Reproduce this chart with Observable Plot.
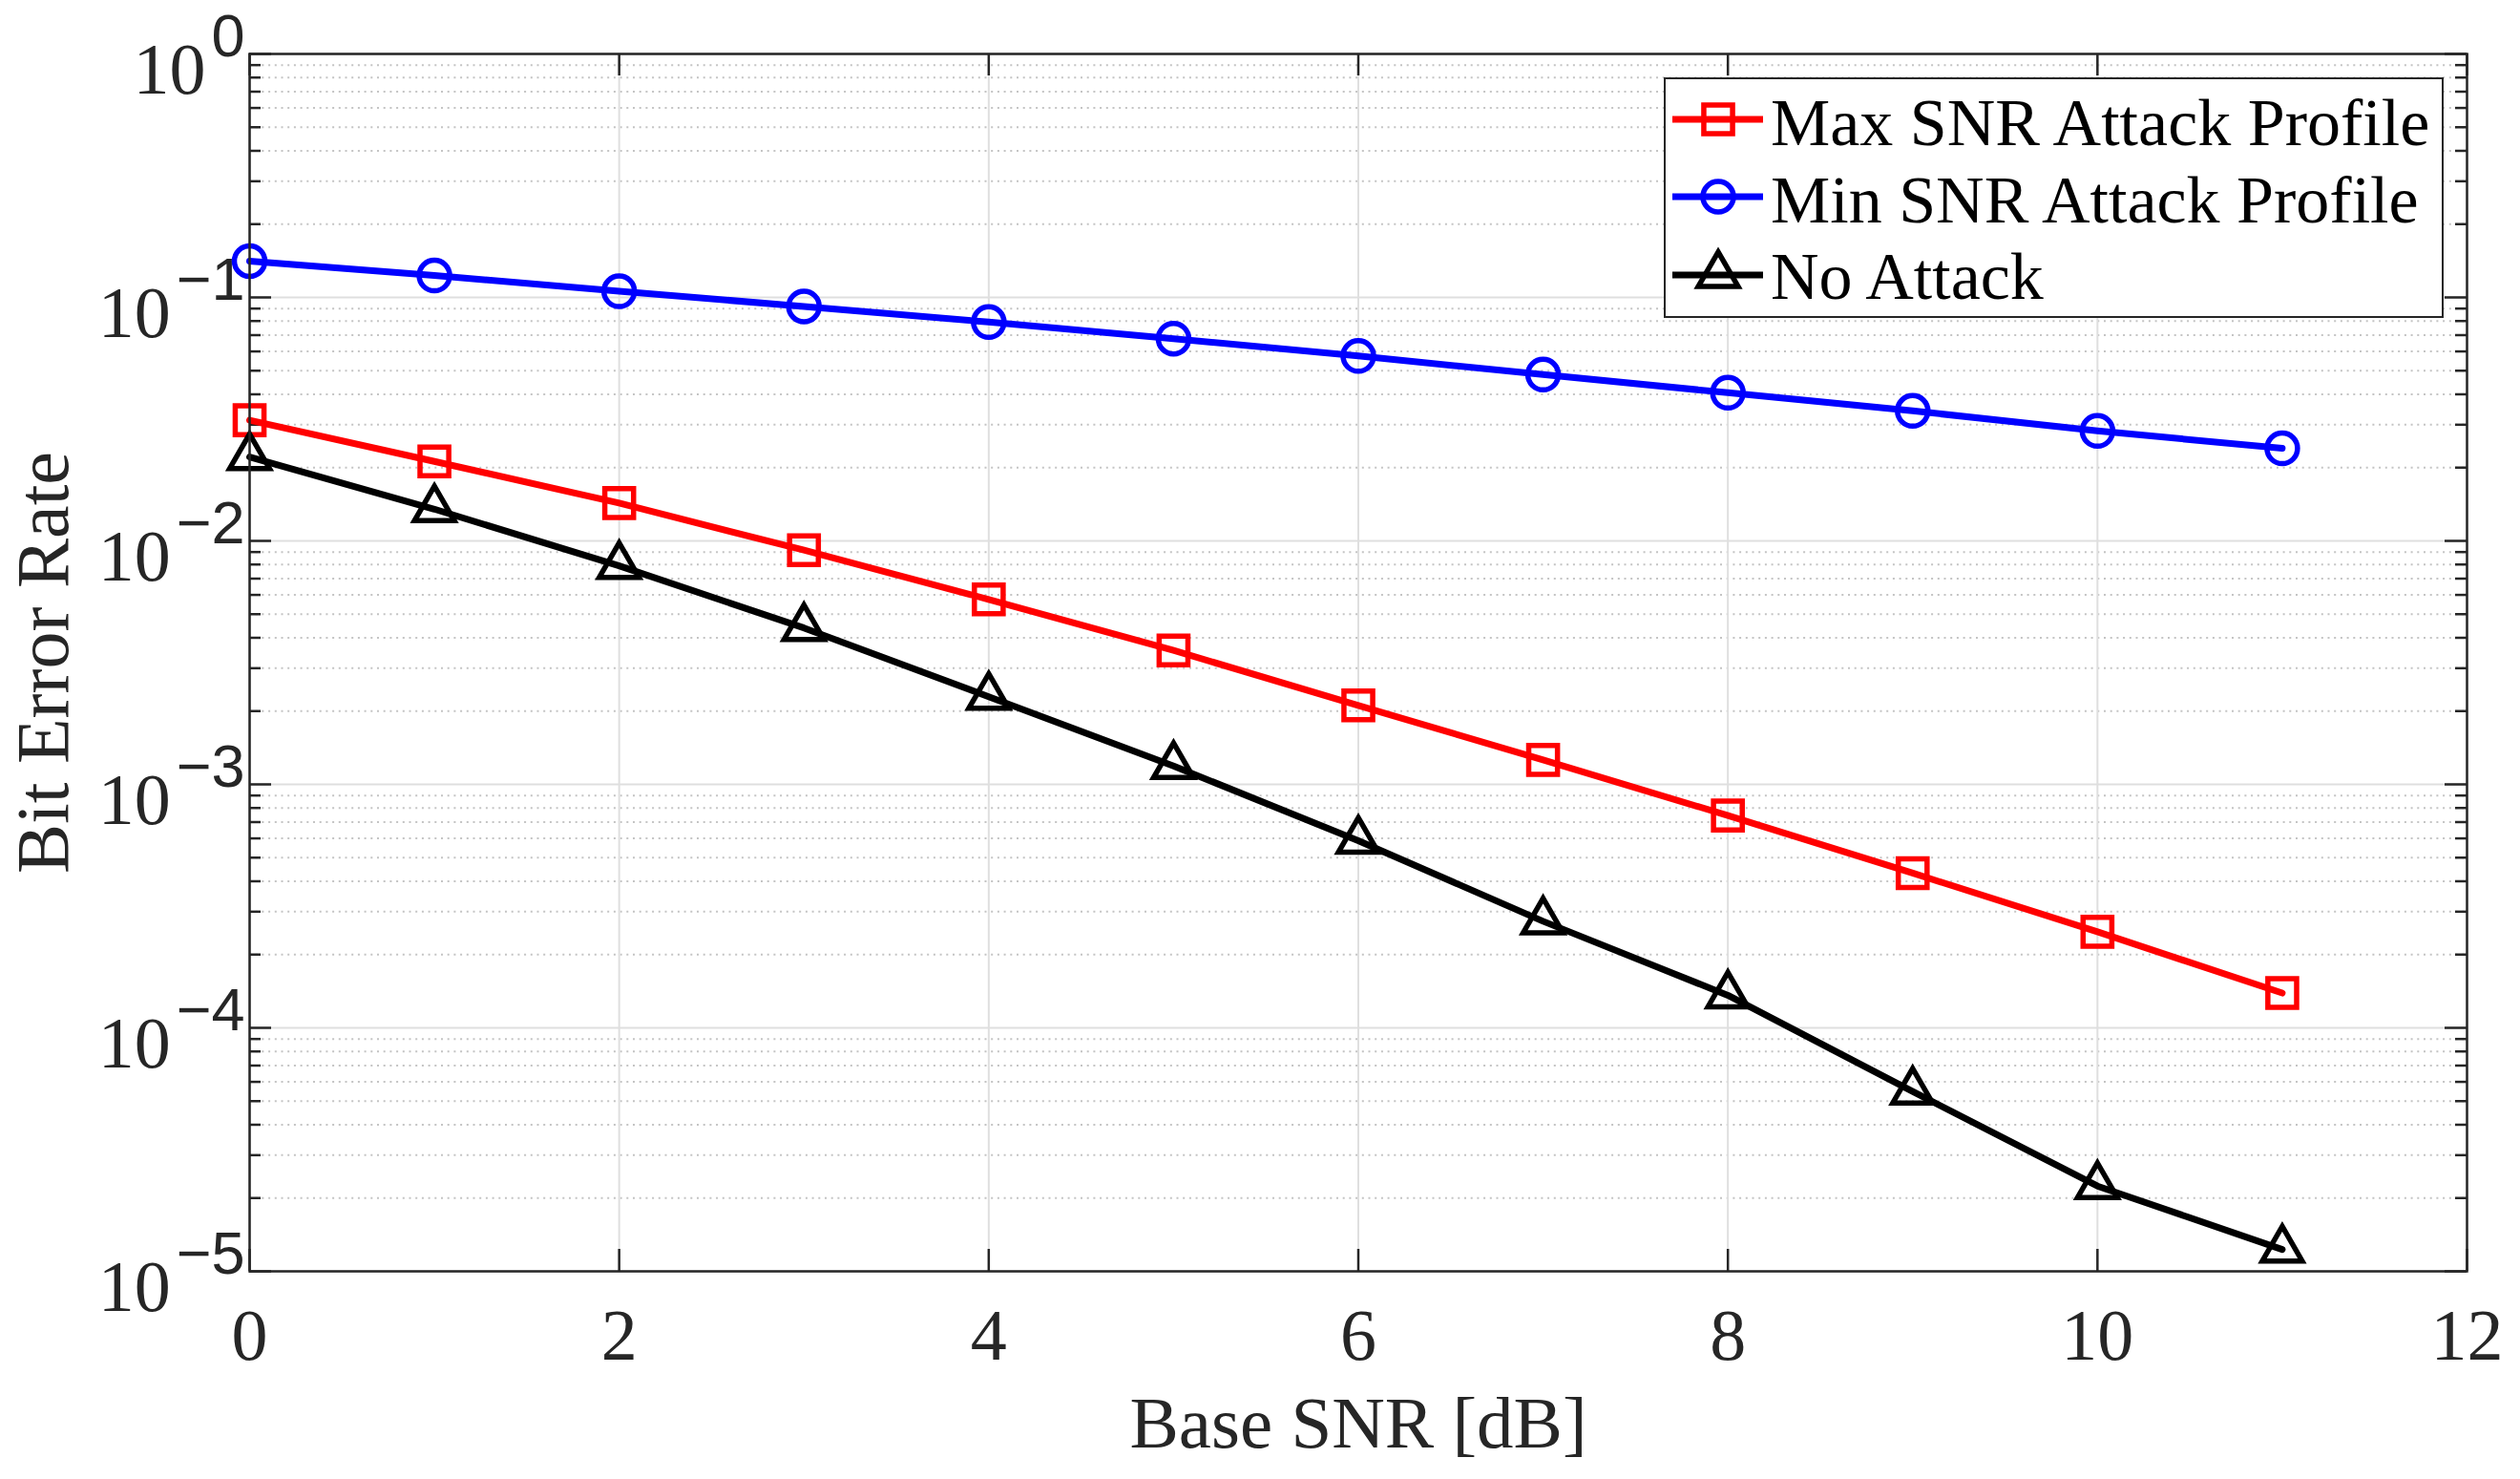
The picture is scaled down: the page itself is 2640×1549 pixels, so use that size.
<!DOCTYPE html>
<html>
<head>
<meta charset="utf-8">
<script src="https://cdn.jsdelivr.net/npm/d3@7"></script>
<script src="https://cdn.jsdelivr.net/npm/@observablehq/plot@0.6"></script>
<style>
  html, body { margin: 0; padding: 0; background: #fff; }
  #wrap { position: relative; width: 2640px; height: 1549px; }
  #legend { position: absolute; left: 1743px; top: 81px; width: 813px; height: 248px;
            border: 2.5px solid #262626; background: #fff; }
  #legend svg { display: block; }
</style>
</head>
<body>
<div id="wrap"></div>
<script>
// ---- data ----
const snr = [0, 1, 2, 3, 4, 5, 6, 7, 8, 9, 10, 11];
const maxSnrAttack = [0.0313, 0.0212, 0.0143, 0.00916, 0.00575, 0.00355, 0.00211, 0.00126, 0.000745, 0.000432, 0.000248, 0.000139];
const minSnrAttack = [0.141, 0.123, 0.106, 0.0918, 0.0792, 0.0677, 0.0575, 0.0482, 0.0406, 0.0342, 0.0283, 0.0240];
const noAttack = [0.0221, 0.0135, 0.0079, 0.00439, 0.00229, 0.00119, 0.000587, 0.000274, 0.000136, 0.0000548, 0.0000224, 0.0000123];

const seriesNames = ["Max SNR Attack Profile", "Min SNR Attack Profile", "No Attack"];
const seriesColors = ["#ff0000", "#0000ff", "#000000"];
const seriesSymbols = ["square", "circle", "triangle"];

const xTicks = [0, 2, 4, 6, 8, 10, 12];
const yDecades = [1e-5, 1e-4, 1e-3, 1e-2, 1e-1, 1];
const minorMultipliers = [2, 3, 4, 5, 6, 7, 8, 9];
const yMinor = yDecades.slice(0, -1).flatMap(d => minorMultipliers.map(m => m * d));

const xLabel = "Base SNR [dB]";
const yLabel = "Bit Error Rate";

// ---- layout ----
const W = 2640, H = 1549;
const mL = 261, mR = 56, mT = 56, mB = 218;
const pw = W - mL - mR, ph = H - mT - mB;
const axisColor = "#262626";
const markerR = [17, 16, 15.5];

const rows = [];
[maxSnrAttack, minSnrAttack, noAttack].forEach((vals, s) => {
  vals.forEach((v, i) => rows.push({series: seriesNames[s], x: snr[i], y: v}));
});

const marks = [];
// grid
marks.push(Plot.ruleY(yMinor, {y: d => d, stroke: "#c4c4c4", strokeWidth: 2, strokeDasharray: "2,4.7"}));
marks.push(Plot.ruleY(yDecades, {y: d => d, stroke: "#dfdfdf", strokeWidth: 2}));
marks.push(Plot.ruleX(xTicks, {x: d => d, stroke: "#dfdfdf", strokeWidth: 2}));
// inside ticks
marks.push(Plot.tickY(yDecades, {y: d => d, insetRight: pw - 23, stroke: axisColor, strokeWidth: 2.5}));
marks.push(Plot.tickY(yDecades, {y: d => d, insetLeft: pw - 23, stroke: axisColor, strokeWidth: 2.5}));
marks.push(Plot.tickY(yMinor, {y: d => d, insetRight: pw - 12, stroke: axisColor, strokeWidth: 2.5}));
marks.push(Plot.tickY(yMinor, {y: d => d, insetLeft: pw - 12, stroke: axisColor, strokeWidth: 2.5}));
marks.push(Plot.tickX(xTicks, {x: d => d, insetTop: ph - 23, stroke: axisColor, strokeWidth: 2.5}));
marks.push(Plot.tickX(xTicks, {x: d => d, insetBottom: ph - 23, stroke: axisColor, strokeWidth: 2.5}));
// axes labels
marks.push(Plot.axisX({ticks: xTicks, tickSize: 0, tickPadding: 39, fontSize: 76, label: null, fill: axisColor}));
marks.push(Plot.axisY({ticks: yDecades, tickSize: 0, tickPadding: 5, fontSize: 76, label: null, fill: axisColor,
  tickFormat: d => String(Math.round(Math.log10(d))).replace("-", "\u2212")}));
marks.push(Plot.text([xLabel], {frameAnchor: "bottom", dy: 184, lineAnchor: "bottom", textAnchor: "middle", fontSize: 77, fill: axisColor}));
marks.push(Plot.text([yLabel], {frameAnchor: "left", dx: 70 - mL, rotate: -90, lineAnchor: "bottom", textAnchor: "middle", fontSize: 78, fill: axisColor}));
// data
seriesNames.forEach((name, s) => {
  const data = rows.filter(r => r.series === name);
  marks.push(Plot.line(data, {x: "x", y: "y", stroke: seriesColors[s], strokeWidth: 7}));
  marks.push(Plot.dot(data, {x: "x", y: "y", symbol: () => seriesSymbols[s], stroke: seriesColors[s], fill: "none",
    strokeWidth: 5.5, r: markerR[s]}));
});
marks.push(Plot.frame({stroke: axisColor, strokeWidth: 2.5}));

const chart = Plot.plot({
  width: W, height: H,
  marginLeft: mL, marginRight: mR, marginTop: mT, marginBottom: mB,
  x: {domain: [0, 12]},
  y: {type: "log", domain: [1e-5, 1]},
  symbol: {type: "identity"},
  style: {fontFamily: "'Liberation Serif', 'Times New Roman', serif", background: "#fff", color: axisColor},
  marks
});

// superscript exponents on y tick labels
d3.select(chart).selectAll('g[aria-label="y-axis tick label"] text').each(function () {
  const exp = this.textContent;
  this.textContent = "";
  this.setAttribute("y", "0.55em");
  const t = d3.select(this);
  t.append("tspan").text("10");
  t.append("tspan").attr("dx", 6).attr("dy", -39).attr("font-size", 63)
    .attr("font-family", "'Liberation Sans', Arial, sans-serif").text(exp);
});

const wrap = document.getElementById("wrap");
wrap.appendChild(chart);

// legend overlay
const legend = document.createElement("div");
legend.id = "legend";
const lsvg = d3.create("svg").attr("width", 813).attr("height", 248)
  .style("font-family", "'Liberation Serif', 'Times New Roman', serif");
const rowY = [42, 123, 205];
const baseY = [69, 150, 230];
seriesNames.forEach((name, s) => {
  lsvg.append("line").attr("x1", 7).attr("x2", 102).attr("y1", rowY[s]).attr("y2", rowY[s])
    .attr("stroke", seriesColors[s]).attr("stroke-width", 7);
  const sym = {square: d3.symbolSquare, circle: d3.symbolCircle, triangle: d3.symbolTriangle}[seriesSymbols[s]];
  lsvg.append("path").attr("d", d3.symbol(sym, Math.PI * markerR[s] * markerR[s])())
    .attr("transform", `translate(55,${rowY[s]})`)
    .attr("fill", "none").attr("stroke", seriesColors[s]).attr("stroke-width", 5.5);
  lsvg.append("text").attr("x", 110).attr("y", baseY[s]).attr("font-size", 70).attr("fill", "#000").text(name);
});
legend.appendChild(lsvg.node());
wrap.appendChild(legend);
</script>
</body>
</html>
